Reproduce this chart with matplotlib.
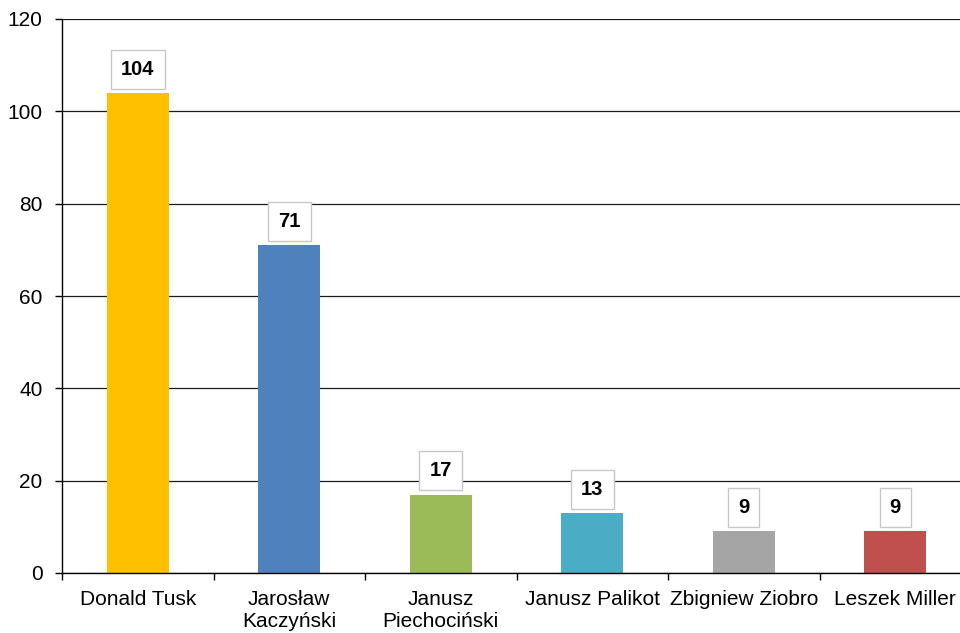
import matplotlib
matplotlib.use("Agg")
import matplotlib.pyplot as plt
import numpy as np

names = ["Donald Tusk", "Jarosław\nKaczyński", "Janusz\nPiechociński",
         "Janusz Palikot", "Zbigniew Ziobro", "Leszek Miller"]
counts = [104, 71, 17, 13, 9, 9]
colors = ["#FFC000", "#4F81BD", "#9BBB59", "#4BACC6", "#A5A5A5", "#C0504D"]
yticks = [0, 20, 40, 60, 80, 100, 120]

plt.rcParams["font.family"] = ["Liberation Sans", "DejaVu Sans"]

fig = plt.figure(figsize=(9.6, 6.33), dpi=100)
ax = fig.add_axes([62 / 960, 1 - 573 / 633, 909 / 960, 554 / 633])

x = np.arange(len(names))
ax.bar(x, counts, width=0.41, color=colors, zorder=3)

for xi, v in zip(x, counts):
    ax.annotate(str(v), (xi, v), xytext=(0, 17), textcoords="offset points",
                ha="center", va="center", fontsize=14.5, fontweight="bold",
                bbox=dict(boxstyle="square,pad=0.5", fc="white", ec="#C8C8C8", lw=1),
                zorder=4)

ax.set_xlim(-0.5, len(names) - 0.5)
ax.set_ylim(0, 120)
ax.set_yticks(yticks)
ax.yaxis.grid(True, color="#1a1a1a", lw=0.9, zorder=1)

ax.set_xticks(x)
ax.set_xticklabels(names, fontsize=15, linespacing=1.2)
ax.set_xticks(np.arange(len(names) + 1) - 0.5, minor=True)
ax.tick_params(axis="x", which="major", length=0, pad=12)
ax.tick_params(axis="x", which="minor", length=5, width=1, direction="out")
ax.tick_params(axis="y", labelsize=15, length=5, width=1, pad=9)

for side in ["top", "right"]:
    ax.spines[side].set_visible(False)
for side in ["left", "bottom"]:
    ax.spines[side].set_linewidth(1)
    ax.spines[side].set_zorder(5)

fig.savefig("out.png", dpi=100)
